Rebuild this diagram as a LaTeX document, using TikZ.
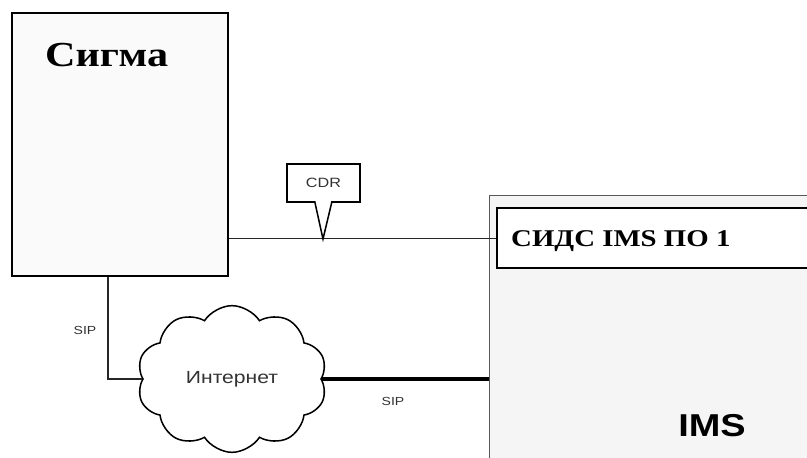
\documentclass[tikz,border=0pt]{standalone}
\usepackage{fontspec}
\setmainfont{Liberation Serif}[FakeStretch=1.2]
\setsansfont{Liberation Sans}[FakeStretch=1.2]
\usepackage{tikz}
\usetikzlibrary{positioning,calc,shapes.symbols,shapes.callouts}

\begin{document}
\begin{tikzpicture}[x=0.03cm, y=-0.03cm,
  unit/.style={rectangle, draw=black, line width=1.6pt, fill=black!2,
               inner sep=0pt},
  frame/.style={rectangle, draw=black!65, line width=0.8pt, fill=black!4,
                inner sep=0pt},
  title/.style={anchor=base west, inner sep=0pt,
                font=\fontsize{30}{34}\selectfont\bfseries},
  lbl/.style={inner sep=1pt, text=black!80,
              font=\sffamily\fontsize{10}{12}\selectfont},
  link/.style={line width=0.8pt, black!85},
  trunk/.style={line width=2.6pt, black}
]
\useasboundingbox (0,0) rectangle (807,458);
% IMS platform (runs off the page) with its CDR collector
\node[frame] (ims) at (659.5,337.5) [minimum width=10.23cm, minimum height=8.55cm] {};
\node[unit, fill=white] (sids) at (658.5,238) [minimum width=9.69cm, minimum height=1.8cm] {};
\node[title, font=\fontsize{20.5}{24}\selectfont\bfseries] (sidst) at (511,247) {СИДС IMS ПО 1};
\node[font=\sffamily\fontsize{27}{30}\selectfont\bfseries] (imst) at (712,426) {IMS};
% Sigma
\node[unit] (sigma) at (120,144.5) [minimum width=6.48cm, minimum height=7.89cm] {};
\node[title] (sigmat) at (45,67) {Сигма};
% Internet cloud
\node[cloud, draw, line width=1.3pt, fill=white, cloud puffs=10, cloud puff arc=115,
      aspect=1.3, minimum width=5.7cm, minimum height=4.4cm, inner sep=0pt,
      text=black!80, font=\sffamily\fontsize{15}{17}\selectfont] (net) at (232,379) {Интернет};
% CDR flow
\draw[link] (sigma.east |- sids.west) -- (sids.west);
\node[rectangle callout, draw, line width=1.3pt, fill=white,
      minimum width=2.19cm, minimum height=1.14cm, inner sep=0pt,
      callout absolute pointer={(323,239)}, callout pointer width=0.51cm,
      text=black!80, font=\sffamily\fontsize{11.5}{13}\selectfont] (cdr) at (323.5,183) {CDR};
% SIP legs
\draw[link, line width=1.3pt] ([xshift=-0.36cm]sigma.south) |- (net.west);
\node[lbl] (sip1) at (85,330) {SIP};
\draw[trunk] (net.east) -- (net.east -| ims.west);
\node[lbl] (sip2) at (393,401) {SIP};
\end{tikzpicture}
\end{document}
